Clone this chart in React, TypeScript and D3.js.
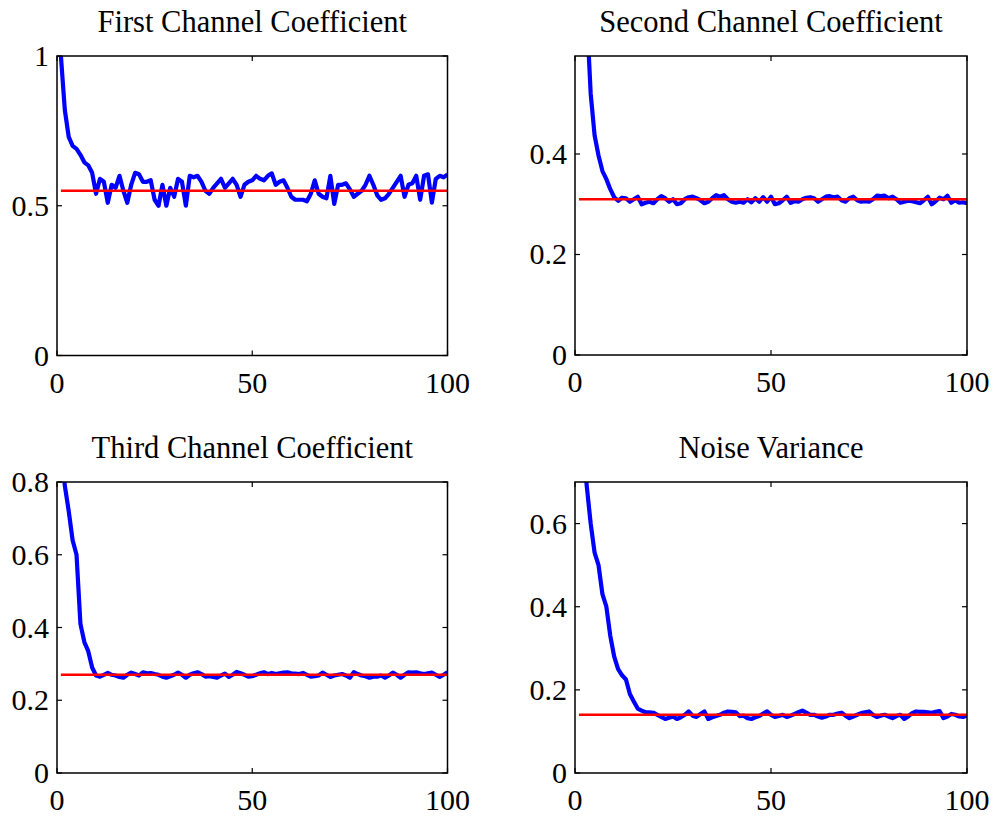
import React from "react";
import * as d3 from "d3";

const titles = ["First Channel Coefficient", "Second Channel Coefficient", "Third Channel Coefficient", "Noise Variance"];
const xTicks = [0, 50, 100];
const yMaxes = [1, 0.595, 0.8, 0.7];
const yTicks = [[0, 0.5, 1], [0, 0.2, 0.4], [0, 0.2, 0.4, 0.6, 0.8], [0, 0.2, 0.4, 0.6]];
const trueValues = [0.55, 0.31, 0.27, 0.14];

const firstCoef = [
  1.0, 0.82, 0.73, 0.7, 0.69, 0.67, 0.645, 0.635, 0.61, 0.54,
  0.59, 0.58, 0.51, 0.57, 0.56, 0.6, 0.55, 0.51, 0.57, 0.61,
  0.605, 0.58, 0.58, 0.585, 0.52, 0.5, 0.57, 0.5, 0.56, 0.53,
  0.59, 0.58, 0.5, 0.6, 0.595, 0.6, 0.58, 0.55, 0.54, 0.56,
  0.575, 0.59, 0.56, 0.575, 0.59, 0.57, 0.53, 0.57, 0.58, 0.585,
  0.6, 0.59, 0.585, 0.6, 0.608, 0.57, 0.58, 0.585, 0.56, 0.53,
  0.52, 0.52, 0.52, 0.515, 0.54, 0.585, 0.54, 0.53, 0.525, 0.6,
  0.506, 0.57, 0.57, 0.575, 0.555, 0.53, 0.54, 0.55, 0.57, 0.6,
  0.57, 0.535, 0.52, 0.525, 0.54, 0.56, 0.58, 0.6, 0.53, 0.57,
  0.575, 0.6, 0.52, 0.6, 0.605, 0.51, 0.59, 0.6, 0.595, 0.605,
];
const secondCoef = [
  0.95, 0.82, 0.68, 0.52, 0.437, 0.397, 0.366, 0.35, 0.33, 0.314,
  0.307, 0.313, 0.312, 0.305, 0.31, 0.315, 0.3, 0.303, 0.305, 0.302,
  0.31, 0.316, 0.312, 0.305, 0.31, 0.3, 0.302, 0.31, 0.314, 0.315,
  0.312, 0.308, 0.302, 0.305, 0.312, 0.318, 0.315, 0.318, 0.31, 0.305,
  0.303, 0.305, 0.303, 0.31, 0.304, 0.312, 0.305, 0.314, 0.305, 0.315,
  0.3, 0.302, 0.308, 0.315, 0.303, 0.306, 0.305, 0.31, 0.313, 0.314,
  0.312, 0.305, 0.31, 0.315, 0.316, 0.314, 0.315, 0.308, 0.305, 0.312,
  0.315, 0.308, 0.305, 0.306, 0.305, 0.31, 0.317, 0.316, 0.317, 0.312,
  0.315, 0.31, 0.303, 0.305, 0.307, 0.306, 0.304, 0.302, 0.308, 0.315,
  0.3, 0.306, 0.313, 0.31, 0.317, 0.303, 0.308, 0.303, 0.304, 0.302,
];
const thirdCoef = [
  0.92, 0.79, 0.72, 0.64, 0.6, 0.41, 0.36, 0.335, 0.29, 0.268,
  0.265, 0.27, 0.275, 0.27, 0.268, 0.264, 0.262, 0.27, 0.276, 0.272,
  0.268, 0.277, 0.274, 0.275, 0.272, 0.27, 0.265, 0.262, 0.266, 0.27,
  0.276, 0.27, 0.262, 0.27, 0.274, 0.277, 0.272, 0.265, 0.266, 0.264,
  0.262, 0.268, 0.273, 0.264, 0.27, 0.278, 0.274, 0.27, 0.265, 0.266,
  0.27, 0.274, 0.277, 0.272, 0.275, 0.272, 0.274, 0.276, 0.277, 0.274,
  0.273, 0.272, 0.275, 0.27, 0.265, 0.266, 0.268, 0.276, 0.27, 0.264,
  0.268, 0.27, 0.272, 0.268, 0.262, 0.277, 0.272, 0.268, 0.266, 0.262,
  0.265, 0.265, 0.268, 0.262, 0.268, 0.276, 0.27, 0.262, 0.27, 0.277,
  0.276, 0.277, 0.274, 0.272, 0.274, 0.276, 0.27, 0.264, 0.27, 0.277,
];
const noiseVar = [
  0.9, 0.8, 0.69, 0.6, 0.53, 0.5, 0.43, 0.4, 0.33, 0.28,
  0.25, 0.235, 0.225, 0.19, 0.172, 0.155, 0.15, 0.146, 0.146, 0.145,
  0.14, 0.135, 0.13, 0.133, 0.136, 0.13, 0.134, 0.14, 0.148, 0.138,
  0.135, 0.142, 0.148, 0.13, 0.134, 0.137, 0.14, 0.145, 0.148, 0.147,
  0.146, 0.137, 0.138, 0.132, 0.13, 0.134, 0.137, 0.143, 0.148, 0.14,
  0.135, 0.137, 0.14, 0.135, 0.138, 0.142, 0.146, 0.15, 0.145, 0.14,
  0.14, 0.136, 0.133, 0.136, 0.14, 0.14, 0.143, 0.145, 0.138, 0.132,
  0.136, 0.14, 0.144, 0.146, 0.148, 0.14, 0.135, 0.138, 0.14, 0.136,
  0.132, 0.137, 0.14, 0.13, 0.136, 0.144, 0.148, 0.147, 0.147, 0.146,
  0.145, 0.147, 0.149, 0.132, 0.136, 0.142, 0.14, 0.136, 0.135, 0.138,
];

const series = [firstCoef, secondCoef, thirdCoef, noiseVar];
const FONT = "'Liberation Serif', 'Times New Roman', serif";

const boxes = [
  { left: 57, right: 447.5, top: 56, bottom: 355.5 },
  { left: 575, right: 967, top: 56, bottom: 355 },
  { left: 57, right: 447.5, top: 482, bottom: 773 },
  { left: 575, right: 967, top: 482, bottom: 773 },
];

function Panel({ idx }: { idx: number }) {
  const b = boxes[idx];
  const x = d3.scaleLinear().domain([0, 100]).range([b.left, b.right]);
  const y = d3.scaleLinear().domain([0, yMaxes[idx]]).range([b.bottom, b.top]);
  const data = series[idx];
  const line = d3
    .line<number>()
    .x((_, i) => x(i + 1))
    .y((d) => y(d));
  const trueLine = d3
    .line<number>()
    .x((d) => x(d))
    .y(() => y(trueValues[idx]));
  const clipId = `clip${idx}`;
  const tl = 5;
  return (
    <g>
      <defs>
        <clipPath id={clipId}>
          <rect x={b.left} y={b.top} width={b.right - b.left} height={b.bottom - b.top} />
        </clipPath>
      </defs>
      <g clipPath={`url(#${clipId})`}>
        <path d={line(data) || ""} fill="none" stroke="#0000ff" strokeWidth={4.2} strokeLinejoin="round" />
        <path d={trueLine([1, 100]) || ""} fill="none" stroke="#ff0000" strokeWidth={2.4} />
      </g>
      <rect
        x={b.left}
        y={b.top}
        width={b.right - b.left}
        height={b.bottom - b.top}
        fill="none"
        stroke="#000"
        strokeWidth={1.5}
      />
      {xTicks.map((t) => (
        <g key={`x${t}`}>
          <line x1={x(t)} x2={x(t)} y1={b.bottom} y2={b.bottom - tl} stroke="#000" strokeWidth={1.2} />
          <line x1={x(t)} x2={x(t)} y1={b.top} y2={b.top + tl} stroke="#000" strokeWidth={1.2} />
          <text x={x(t)} y={b.bottom + 37} textAnchor="middle" fontFamily={FONT} fontSize={30}>
            {t}
          </text>
        </g>
      ))}
      {yTicks[idx].map((t) => (
        <g key={`y${t}`}>
          <line x1={b.left} x2={b.left + tl} y1={y(t)} y2={y(t)} stroke="#000" strokeWidth={1.2} />
          <line x1={b.right} x2={b.right - tl} y1={y(t)} y2={y(t)} stroke="#000" strokeWidth={1.2} />
          <text x={b.left - 8} y={y(t) + 10} textAnchor="end" fontFamily={FONT} fontSize={30}>
            {t}
          </text>
        </g>
      ))}
      <text
        x={(b.left + b.right) / 2}
        y={b.top - 24}
        textAnchor="middle"
        fontFamily={FONT}
        fontSize={30.5}
      >
        {titles[idx]}
      </text>
    </g>
  );
}

export default function App() {
  return (
    <svg
      width={1000}
      height={816}
      style={{ position: "absolute", left: 0, top: 0, background: "#fff" }}
    >
      <rect width={1000} height={816} fill="#fff" />
      {[0, 1, 2, 3].map((i) => (
        <Panel key={i} idx={i} />
      ))}
    </svg>
  );
}
